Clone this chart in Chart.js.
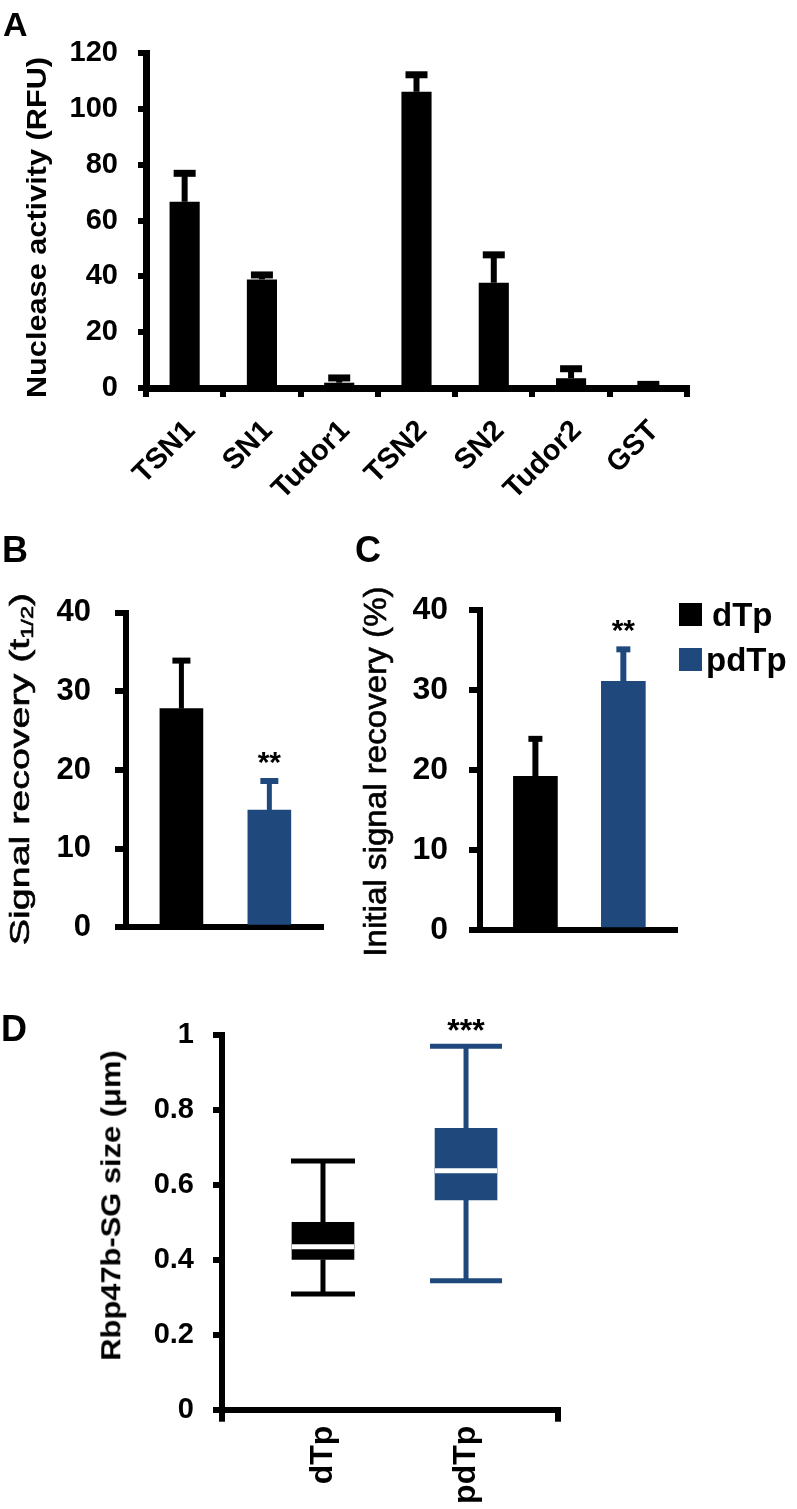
<!DOCTYPE html>
<html>
<head>
<meta charset="utf-8">
<script src="https://cdn.jsdelivr.net/npm/chart.js@4.4.1/dist/chart.umd.min.js"></script>
<style>
html,body{margin:0;padding:0;background:#fff;}
#page{position:relative;width:797px;height:1509px;overflow:hidden;background:#fff;font-family:"Liberation Sans",Arial,Helvetica,sans-serif;color:#000;}
canvas{position:absolute;}
.panel{position:absolute;font-weight:bold;line-height:1;white-space:nowrap;}
.ytitle{position:absolute;white-space:nowrap;line-height:1;transform-origin:50% 50%;}
.ytitle.medium{-webkit-text-stroke:0.6px #000;}
.ytitle sub{font-size:60%;line-height:0;vertical-align:-0.25em;}
.legend{position:absolute;display:flex;align-items:center;font-weight:bold;font-size:33px;line-height:1;white-space:nowrap;}
.legend .sw{display:inline-block;width:23px;height:23px;}
</style>
</head>
<body>
<div id="page">
  <canvas id="chartA" width="797" height="540" style="left:0;top:0;width:797px;height:540px"></canvas>
  <canvas id="chartB" width="360" height="400" style="left:0;top:570px;width:360px;height:400px"></canvas>
  <canvas id="chartC" width="360" height="400" style="left:360px;top:570px;width:360px;height:400px"></canvas>
  <canvas id="chartD" width="797" height="519" style="left:0;top:990px;width:797px;height:519px"></canvas>

  <div class="panel" style="left:3px;top:7px;font-size:34px">A</div>
  <div class="panel" style="left:2px;top:532px;font-size:36px">B</div>
  <div class="panel" style="left:355px;top:532px;font-size:36px">C</div>
  <div class="panel" style="left:1px;top:1011px;font-size:36px">D</div>

  <div id="titleA" class="ytitle" style="font-weight:bold;font-size:27px">Nuclease activity (RFU)</div>
  <div id="titleB" class="ytitle medium" style="font-weight:normal;font-size:28px">Signal recovery (t<sub>1/2</sub>)</div>
  <div id="titleC" class="ytitle medium" style="font-weight:normal;font-size:31px">Initial signal recovery (%)</div>
  <div id="titleD" class="ytitle" style="font-weight:bold;font-size:27px">Rbp47b-SG size (μm)</div>

  <div class="legend" style="left:679px;top:598px"><span class="sw" style="background:#000000;margin-right:10px"></span>dTp</div>
  <div class="legend" style="left:679px;top:643px"><span class="sw" style="background:#1F497D;margin-right:4px"></span>pdTp</div>
</div>
<script>
// ---------------- data ----------------
// Panel A: nuclease activity (RFU)
const nucleaseCategories = ['TSN1', 'SN1', 'Tudor1', 'TSN2', 'SN2', 'Tudor2', 'GST'];
const nucleaseValues = [66.7, 38.9, 1.9, 106.1, 37.7, 3.5, 0.4];
const nucleaseErrors = [10.2, 1.6, 1.7, 6.1, 10.0, 3.4, 0.9];
const nucleaseTicks = [0, 20, 40, 60, 80, 100, 120];

// Panels B and C: groups
const groupLabels = ['dTp', 'pdTp'];
const recoveryTicks = [0, 10, 20, 30, 40];

// Panel B: signal recovery (t1/2)
const halfTimeValues = [27.8, 14.9];
const halfTimeErrors = [6.1, 3.7];
const halfTimeSignif = ['', '**'];

// Panel C: initial signal recovery (%)
const initialValues = [19.2, 31.1];
const initialErrors = [4.7, 4.0];
const initialSignif = ['', '**'];

// Panel D: Rbp47b-SG size (um) box plot
const sizeMin = [0.309, 0.344];
const sizeQ1 = [0.401, 0.560];
const sizeMedian = [0.435, 0.638];
const sizeQ3 = [0.500, 0.751];
const sizeMax = [0.664, 0.970];
const sizeSignif = ['', '***'];
const sizeTicks = [0, 0.2, 0.4, 0.6, 0.8, 1];

// ---------------- style ----------------
const FONT = '"Liberation Sans", Arial, Helvetica, sans-serif';
const BLACK = '#000000';
const BLUE = '#1F497D';
const groupColors = [BLACK, BLUE];
const groupPositions = groupLabels.map((_, i) => i + 1);

Chart.defaults.font.family = FONT;
Chart.defaults.color = '#000';

function yAxis(ticksArr, o) {
  return {
    type: 'linear',
    min: ticksArr[0],
    max: ticksArr[ticksArr.length - 1],
    afterBuildTicks: s => { s.ticks = ticksArr.map(v => ({ value: v })); },
    grid: { display: true, drawOnChartArea: false, drawTicks: true, tickLength: o.tickLength,
            lineWidth: o.tickWidth, tickWidth: o.tickWidth, color: '#000', tickColor: '#000' },
    border: { display: true, color: '#000', width: o.axisWidth },
    ticks: { color: '#000', font: { size: o.fontSize, weight: 'bold', family: FONT }, padding: o.padding, autoSkip: false,
             callback: v => String(Number(Number(v).toFixed(2))) },
    afterFit: s => { s.width = o.width; }
  };
}

function plainXAxis(min, max, height, axisWidth) {
  return {
    type: 'linear', min: min, max: max, offset: false,
    grid: { display: false, offset: false },
    ticks: { display: false },
    border: { display: true, color: '#000', width: axisWidth },
    afterFit: s => { s.height = height; },
    z: 1
  };
}

function errorBarPlugin(values, errors, colors, st) {
  return {
    id: 'errorBars',
    afterDatasetsDraw(chart) {
      const ctx = chart.ctx, y = chart.scales.y;
      const meta = chart.getDatasetMeta(0);
      ctx.save();
      ctx.lineCap = 'butt';
      meta.data.forEach((bar, i) => {
        const top = y.getPixelForValue(values[i] + errors[i]);
        ctx.strokeStyle = colors[i];
        ctx.lineWidth = st.lineWidth;
        ctx.beginPath(); ctx.moveTo(bar.x, bar.y); ctx.lineTo(bar.x, top); ctx.stroke();
        ctx.lineWidth = st.capThickness;
        ctx.beginPath(); ctx.moveTo(bar.x - st.capWidth / 2, top); ctx.lineTo(bar.x + st.capWidth / 2, top); ctx.stroke();
      });
      ctx.restore();
    }
  };
}

function signifPlugin(topValues, marks, st) {
  return {
    id: 'signif',
    afterDatasetsDraw(chart) {
      const ctx = chart.ctx, y = chart.scales.y;
      const meta = chart.getDatasetMeta(0);
      ctx.save();
      ctx.fillStyle = '#000';
      ctx.font = 'bold ' + st.fontSize + 'px ' + FONT;
      ctx.textAlign = 'center';
      ctx.textBaseline = 'alphabetic';
      meta.data.forEach((bar, i) => {
        if (!marks[i]) return;
        const center = y.getPixelForValue(topValues[i]) - st.offset;
        ctx.fillText(marks[i], bar.x, center + 0.57 * st.fontSize);
      });
      ctx.restore();
    }
  };
}

const baseOptions = () => ({
  responsive: false,
  maintainAspectRatio: false,
  animation: false,
  devicePixelRatio: 1,
  plugins: { legend: { display: false }, tooltip: { enabled: false } }
});

// ---------------- Chart A ----------------
{
  const opts = baseOptions();
  opts.layout = { padding: { top: 53, right: 110, left: 0, bottom: 0 } };
  opts.scales = {
    x: {
      type: 'category', offset: true,
      grid: { display: true, offset: true, drawOnChartArea: false, drawTicks: true, tickLength: 9,
              lineWidth: 6, tickWidth: 6, color: '#000', tickColor: '#000' },
      border: { display: true, color: '#000', width: 7 },
      ticks: { color: '#000', font: { size: 29, weight: 'bold', family: FONT }, minRotation: 45, maxRotation: 45,
               padding: 17, labelOffset: 6, autoSkip: false },
      afterFit: s => { s.height = 152; },
      z: 1
    },
    y: yAxis(nucleaseTicks, { tickLength: 8, tickWidth: 6, axisWidth: 7, fontSize: 29, padding: 20, width: 146 })
  };
  new Chart(document.getElementById('chartA'), {
    type: 'bar',
    data: {
      labels: nucleaseCategories,
      datasets: [{ data: nucleaseValues, backgroundColor: BLACK, borderWidth: 0,
                   barPercentage: 0.39, categoryPercentage: 1 }]
    },
    options: opts,
    plugins: [errorBarPlugin(nucleaseValues, nucleaseErrors, nucleaseValues.map(() => BLACK),
                             { lineWidth: 6, capThickness: 7, capWidth: 22 })]
  });
}

// ---------------- Chart B ----------------
{
  const opts = baseOptions();
  opts.layout = { padding: { top: 31, right: 37, left: 0, bottom: 0 } };
  opts.scales = {
    x: plainXAxis(0.37, 2.61, 22, 6),
    y: yAxis(recoveryTicks, { tickLength: 11, tickWidth: 6, axisWidth: 6, fontSize: 31, padding: 24, width: 126 })
  };
  const tops = halfTimeValues.map((v, i) => v + halfTimeErrors[i]);
  new Chart(document.getElementById('chartB'), {
    type: 'bar',
    data: {
      datasets: [{
        data: groupPositions.map((x, i) => ({ x: x, y: halfTimeValues[i] })),
        backgroundColor: groupColors, borderWidth: 0, barThickness: 43
      }]
    },
    options: opts,
    plugins: [errorBarPlugin(halfTimeValues, halfTimeErrors, groupColors, { lineWidth: 5, capThickness: 6, capWidth: 18 }),
              signifPlugin(tops, halfTimeSignif, { fontSize: 30, offset: 26.5 })]
  });
}

// ---------------- Chart C ----------------
{
  const opts = baseOptions();
  opts.layout = { padding: { top: 32, right: 43, left: 0, bottom: 0 } };
  opts.scales = {
    x: plainXAxis(0.37, 2.61, 23, 6),
    y: yAxis(recoveryTicks, { tickLength: 11, tickWidth: 6, axisWidth: 6, fontSize: 32, padding: 21, width: 120 })
  };
  const tops = initialValues.map((v, i) => v + initialErrors[i]);
  new Chart(document.getElementById('chartC'), {
    type: 'bar',
    data: {
      datasets: [{
        data: groupPositions.map((x, i) => ({ x: x, y: initialValues[i] })),
        backgroundColor: groupColors, borderWidth: 0, barThickness: 44
      }]
    },
    options: opts,
    plugins: [errorBarPlugin(initialValues, initialErrors, groupColors, { lineWidth: 6, capThickness: 6, capWidth: 14 }),
              signifPlugin(tops, initialSignif, { fontSize: 30, offset: 26.5 })]
  });
}

// ---------------- Chart D ----------------
{
  const opts = baseOptions();
  opts.layout = { padding: { top: 45, right: 239, left: 0, bottom: 0 } };
  opts.scales = {
    x: {
      type: 'linear', min: 0.294, max: 2.643, offset: false,
      afterBuildTicks: s => { s.ticks = [s.min].concat(groupPositions, [s.max]).map(v => ({ value: v })); },
      grid: { display: true, offset: false, drawOnChartArea: false, drawTicks: true, tickLength: 12,
              lineWidth: 6, tickWidth: 6, color: '#000',
              tickColor: c => (c.tick && groupPositions.includes(c.tick.value)) ? 'rgba(0,0,0,0)' : '#000' },
      border: { display: true, color: '#000', width: 6 },
      ticks: { color: '#000', font: { size: 32, weight: 'bold', family: FONT }, minRotation: 90, maxRotation: 90,
               padding: 4, autoSkip: false,
               callback: v => { const i = groupPositions.indexOf(v); return i >= 0 ? groupLabels[i] : ''; } },
      afterFit: s => { s.height = 99.3; }
    },
    y: yAxis(sizeTicks, { tickLength: 9, tickWidth: 6, axisWidth: 6, fontSize: 29, padding: 19, width: 222 })
  };
  const capWidths = [64, 72];
  const boxPlugin = {
    id: 'boxWhiskers',
    afterDatasetsDraw(chart) {
      const ctx = chart.ctx, y = chart.scales.y;
      const meta = chart.getDatasetMeta(0);
      ctx.save();
      ctx.lineCap = 'butt';
      meta.data.forEach((bar, i) => {
        const x = bar.x, half = bar.width / 2, cw = capWidths[i] / 2;
        const pMin = y.getPixelForValue(sizeMin[i]);
        const pQ1 = y.getPixelForValue(sizeQ1[i]);
        const pMed = y.getPixelForValue(sizeMedian[i]);
        const pQ3 = y.getPixelForValue(sizeQ3[i]);
        const pMax = y.getPixelForValue(sizeMax[i]);
        ctx.strokeStyle = groupColors[i];
        ctx.lineWidth = 5;
        ctx.beginPath();
        ctx.moveTo(x, pQ1); ctx.lineTo(x, pMin);
        ctx.moveTo(x, pQ3); ctx.lineTo(x, pMax);
        ctx.moveTo(x - cw, pMin); ctx.lineTo(x + cw, pMin);
        ctx.moveTo(x - cw, pMax); ctx.lineTo(x + cw, pMax);
        ctx.stroke();
        ctx.strokeStyle = '#ffffff';
        ctx.beginPath();
        ctx.moveTo(x - half, pMed); ctx.lineTo(x + half, pMed);
        ctx.stroke();
      });
      ctx.restore();
    }
  };
  new Chart(document.getElementById('chartD'), {
    type: 'bar',
    data: {
      datasets: [{
        data: groupPositions.map((x, i) => ({ x: x, y: [sizeQ1[i], sizeQ3[i]] })),
        backgroundColor: groupColors, borderWidth: 0, barThickness: 62, borderSkipped: false
      }]
    },
    options: opts,
    plugins: [boxPlugin, signifPlugin(sizeMax, sizeSignif, { fontSize: 32, offset: 23 })]
  });
}

// ---------------- rotated axis titles ----------------
function placeTitle(id, cx, cy, len, fs) {
  const el = document.getElementById(id);
  const w = el.offsetWidth, h = el.offsetHeight;
  el.style.left = (cx - 0.087 * fs - w / 2) + 'px';
  el.style.top = (cy - h / 2) + 'px';
  el.style.transform = 'rotate(-90deg) scaleX(' + (len / w) + ')';
}
placeTitle('titleA', 39, 227.5, 341, 27);
placeTitle('titleB', 22.5, 768.5, 353, 28);
placeTitle('titleC', 377.5, 771.5, 370, 31);
placeTitle('titleD', 114.5, 1205.5, 311, 27);
</script>
</body>
</html>
